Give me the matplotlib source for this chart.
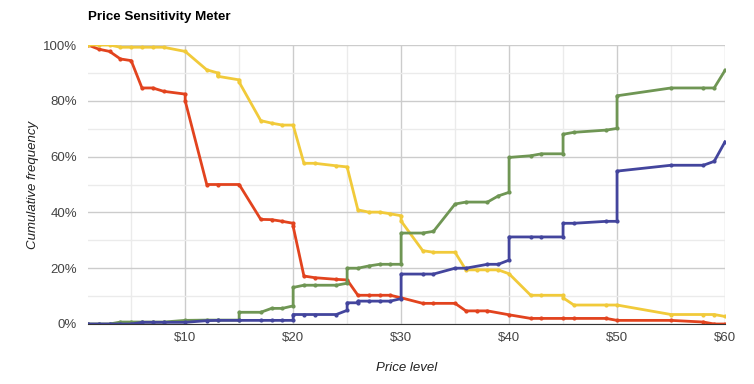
import matplotlib
matplotlib.use("Agg")
from matplotlib import pyplot as plt
from matplotlib.ticker import FuncFormatter, MultipleLocator

plt.rcParams['font.family'] = ['Liberation Sans', 'DejaVu Sans']

# too cheap (red)
cheap_too_x = [1, 2, 3, 4, 5, 6, 7, 8, 10, 10, 12, 13, 15, 17, 18, 19, 20, 20, 21, 22, 24, 25,
               26, 27, 28, 29, 30, 32, 33, 35, 36, 37, 38, 40, 42, 43, 45, 46, 49, 50, 55, 58, 59, 60]
cheap_too_y = [100, 98.5, 97.7, 95, 94.4, 84.6, 84.6, 83.4, 82.4, 80, 50, 50, 50, 37.5, 37.4, 36.8, 36.1, 35, 17.2, 16.6, 16, 15.8,
               10.3, 10.3, 10.3, 10.3, 9.4, 7.4, 7.4, 7.4, 4.7, 4.7, 4.7, 3.3, 2, 2, 2, 2, 2, 1.3, 1.3, 0.7, 0, 0]

# cheap (yellow)
cheap_x = [1, 2, 3, 4, 5, 6, 7, 8, 10, 12, 13, 13, 15, 15, 17, 18, 19, 20, 21, 22, 24, 25,
           26, 27, 28, 29, 30, 30, 32, 33, 35, 36, 37, 38, 39, 40, 42, 43, 45, 45, 46, 49, 50, 55, 58, 59, 60]
cheap_y = [100, 100, 100, 99.2, 99.2, 99.2, 99.2, 99.2, 97.7, 91.1, 90, 88.8, 87.5, 86.7, 72.9, 72, 71.3, 71.3, 57.6, 57.6, 56.7, 56.3,
           40.9, 40.1, 40.1, 39.5, 38.8, 36.9, 26.3, 25.7, 25.7, 19.4, 19.4, 19.4, 19.4, 18, 10.3, 10.3, 10.3, 9.4, 6.8, 6.8, 6.8, 3.4, 3.4, 3.4, 2.7]

# expensive (green)
exp_x = [1, 2, 3, 4, 5, 6, 7, 8, 10, 12, 13, 15, 15, 17, 18, 19, 20, 20, 21, 22, 24, 25, 25,
         26, 27, 28, 29, 30, 30, 32, 33, 35, 36, 38, 39, 40, 40, 42, 43, 45, 45, 46, 49, 50, 50, 55, 58, 59, 60]
exp_y = [0, 0, 0, 0.7, 0.7, 0.7, 0.7, 0.7, 1.3, 1.4, 1.4, 1.4, 4.2, 4.2, 5.6, 5.6, 6.5, 13.1, 13.9, 13.9, 13.9, 14.6, 20,
         20, 20.8, 21.4, 21.4, 21.4, 32.6, 32.6, 33.2, 43, 43.7, 43.7, 45.9, 47.2, 59.7, 60.3, 61, 61, 68, 68.7, 69.5, 70.1, 81.8, 84.6, 84.6, 84.6, 90.9]

# too expensive (blue)
exp_too_x = [1, 2, 3, 4, 5, 6, 7, 8, 10, 12, 13, 15, 17, 18, 19, 20, 20, 21, 22, 24, 25, 25,
             26, 26, 27, 28, 29, 30, 30, 32, 33, 35, 36, 38, 39, 40, 40, 42, 43, 45, 45, 46, 49, 50, 50, 55, 58, 59, 60]
exp_too_y = [0, 0, 0, 0, 0, 0.6, 0.6, 0.6, 0.6, 1.2, 1.3, 1.3, 1.3, 1.3, 1.3, 1.3, 3.4, 3.4, 3.4, 3.4, 4.9, 7.6,
             7.6, 8.2, 8.2, 8.2, 8.2, 9.1, 17.9, 17.9, 17.9, 20, 20, 21.4, 21.4, 22.9, 31.2, 31.2, 31.2, 31.2, 36.1, 36.1, 36.8, 36.8, 54.8, 56.9, 56.9, 58.3, 65.3]

series = [
    (cheap_too_x, cheap_too_y, '#e2431e'),
    (cheap_x, cheap_y, '#f1ca3a'),
    (exp_x, exp_y, '#6f9654'),
    (exp_too_x, exp_too_y, '#43459d'),
]

fig = plt.figure(figsize=(7.54, 3.84), dpi=100)
ax = fig.add_axes([88 / 754, 1 - 324 / 384, (725 - 88) / 754, (324 - 45) / 384])

for xs, ys, col in series:
    ax.plot(xs, ys, color=col, lw=2, marker='o', ms=2, mec=col, zorder=3)

ax.set_xlim(1, 60)
ax.set_ylim(0, 100)
ax.xaxis.set_major_locator(MultipleLocator(10))
ax.xaxis.set_minor_locator(MultipleLocator(5))
ax.yaxis.set_major_locator(MultipleLocator(20))
ax.yaxis.set_minor_locator(MultipleLocator(10))
ax.xaxis.set_major_formatter(FuncFormatter(lambda v, p: '$%d' % v))
ax.yaxis.set_major_formatter(FuncFormatter(lambda v, p: '%d%%' % v))

ax.grid(which='major', color='#cccccc', lw=1)
ax.grid(which='minor', color='#ebebeb', lw=1)
ax.set_axisbelow(True)
for s in ['top', 'right', 'left']:
    ax.spines[s].set_visible(False)
ax.spines['bottom'].set_color('#333333')
ax.spines['bottom'].set_zorder(4)
ax.tick_params(which='both', length=0)
ax.tick_params(axis='x', colors='#444444', labelsize=9.5, pad=6)
ax.tick_params(axis='y', colors='#444444', labelsize=9.5, pad=8)

ax.set_xlabel('Price level', style='italic', color='#222222', fontsize=9.5)
ax.set_ylabel('Cumulative frequency', style='italic', color='#222222', fontsize=9.5)
ax.xaxis.set_label_coords(0.5, -0.136)
ax.yaxis.set_label_coords(-0.0775, 0.5)
fig.text(88 / 754, 1 - 17 / 384, 'Price Sensitivity Meter', fontsize=9.6, fontweight='bold',
         color='#000000', va='center', ha='left')

fig.savefig('out.png', dpi=100)
